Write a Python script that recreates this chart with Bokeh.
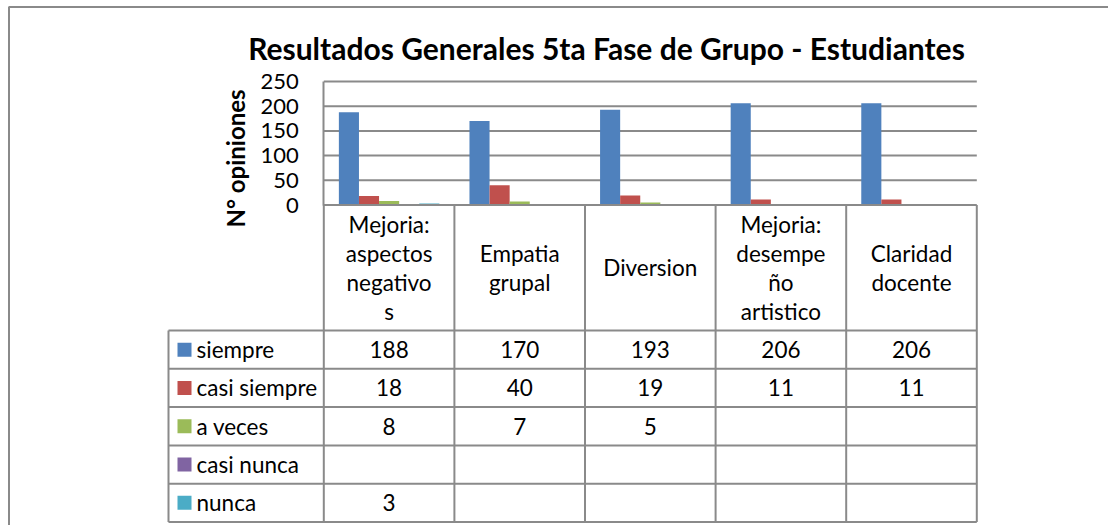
import math
from bokeh.plotting import figure
from bokeh.models import Range1d, LinearAxis, FixedTicker
from bokeh.core.properties import value
from bokeh.embed import file_html
from bokeh.resources import INLINE

# ---------------- data ----------------
title_text = "Resultados Generales 5ta Fase de Grupo - Estudiantes"
y_label = "N° opiniones"
categories = ["Mejoria:\naspectos\nnegativo\ns", "Empatia\ngrupal", "Diversion",
              "Mejoria:\ndesempe\nño\nartistico", "Claridad\ndocente"]
series_names = ["siempre", "casi siempre", "a veces", "casi nunca", "nunca"]
siempre = [188, 170, 193, 206, 206]
casi_siempre = [18, 40, 19, 11, 11]
a_veces = [8, 7, 5, None, None]
casi_nunca = [None, None, None, None, None]
nunca = [3, None, None, None, None]
y_ticks = [0, 50, 100, 150, 200, 250]
colors = ["#4F81BD", "#C0504D", "#9BBB59", "#8064A2", "#4BACC6"]

series_values = [siempre, casi_siempre, a_veces, casi_nunca, nunca]

# ---------------- layout (pixels) ----------------
W, H = 1108, 525
PLOT_LEFT = 323.3
CAT_PX = 130.6
Y0 = 204.5
PX_UNIT = (204.5 - 81.0) / 250.0
FONT = "Lato"
FS = "22.5px"
GRID = "#8a8a8a"


def px2x(px):
    return (px - PLOT_LEFT) / CAT_PX


def py2y(py):
    return (Y0 - py) / PX_UNIT


p = figure(width=W, height=H, output_backend="svg", toolbar_location=None,
           x_axis_type=None, y_axis_type=None,
           x_range=Range1d(px2x(0), px2x(W)),
           y_range=Range1d(py2y(H), py2y(0)),
           min_border=0, min_border_left=0, min_border_right=0,
           min_border_top=0, min_border_bottom=0)
p.outline_line_color = None
p.xgrid.visible = False
p.ygrid.visible = False
p.background_fill_color = "white"
p.border_fill_color = "white"

n_cat = len(categories)
n_ser = len(series_names)

# outer chart border (top and left visible in the crop)
p.segment(x0=[px2x(8), px2x(8.5)], y0=[py2y(6.5), py2y(6.5)],
          x1=[px2x(W), px2x(8.5)], y1=[py2y(6.5), py2y(H)],
          line_color=GRID, line_width=2)

# horizontal gridlines
gl = y_ticks[1:]
p.segment(x0=[0] * len(gl), x1=[n_cat] * len(gl), y0=gl, y1=gl,
          line_color=GRID, line_width=2)

# bars (gap width 150%)
gap = 1.5
bw = 1.0 / (n_ser + gap)
for j, (name, vals, c) in enumerate(zip(series_names, series_values, colors)):
    xs = [i + (gap / 2 + j + 0.5) * bw for i in range(n_cat)]
    tops = [float("nan") if v is None else v for v in vals]
    p.vbar(x=xs, top=tops, bottom=0, width=bw, fill_color=c, line_color=None)

# y axis
yaxis = LinearAxis(ticker=FixedTicker(ticks=y_ticks), bounds=(0, 250), fixed_location=0)
yaxis.axis_line_color = GRID
yaxis.axis_line_width = 2
yaxis.major_tick_line_color = None
yaxis.minor_tick_line_color = None
yaxis.major_tick_in = 0
yaxis.major_tick_out = 0
yaxis.major_label_standoff = 25
yaxis.major_label_text_font = FONT
yaxis.major_label_text_font_size = "22px"
yaxis.major_label_text_color = "black"
p.add_layout(yaxis, "left")

# ---------------- data table ----------------
row_edges = [330.0, 368.3, 406.6, 444.9, 483.2, 521.5]
header_bottom = row_edges[0]
legend_left = 168.0

hx0, hx1, hy = [0], [n_cat], [0]
for e in row_edges:
    hx0.append(px2x(legend_left)); hx1.append(n_cat); hy.append(py2y(e))
p.segment(x0=hx0, x1=hx1, y0=hy, y1=hy, line_color=GRID, line_width=2)

vx = [px2x(legend_left)]
vy0 = [py2y(row_edges[0])]
vy1 = [py2y(row_edges[-1])]
for i in range(n_cat + 1):
    vx.append(i); vy0.append(0); vy1.append(py2y(row_edges[-1]))
p.segment(x0=vx, x1=vx, y0=vy0, y1=vy1, line_color=GRID, line_width=2)

# header category labels
p.text(x=[i + 0.5 for i in range(n_cat)], y=[py2y((Y0 + header_bottom) / 2)] * n_cat,
       text=categories, text_font=value(FONT), text_font_size=value(FS),
       text_align="center", text_baseline="middle", text_line_height=1.07,
       text_color="black")

# rows: legend keys, series names, values
row_centers = [py2y((row_edges[k] + row_edges[k + 1]) / 2) for k in range(n_ser)]
p.scatter(x=[px2x(184)] * n_ser, y=row_centers, marker="square", size=14,
          fill_color=colors, line_color=None)
p.text(x=[px2x(196)] * n_ser, y=row_centers, text=series_names,
       text_font=value(FONT), text_font_size=value(FS),
       text_align="left", text_baseline="middle", text_color="black")

cx, cy, ct = [], [], []
for k, vals in enumerate(series_values):
    for i, v in enumerate(vals):
        cx.append(i + 0.5); cy.append(row_centers[k]); ct.append("" if v is None else str(v))
p.text(x=cx, y=cy, text=ct, text_font=value(FONT), text_font_size=value(FS),
       text_align="center", text_baseline="middle", text_color="black")

# title and y label
p.text(x=[px2x(606)], y=[py2y(47)], text=[title_text], text_font=value(FONT),
       text_font_size=value("30px"), text_font_style="bold",
       text_align="center", text_baseline="alphabetic", text_color="black")
p.text(x=[px2x(235)], y=[py2y(158)], text=[y_label], text_font=value(FONT),
       text_font_size=value("24px"), text_font_style="bold", angle=math.pi / 2,
       text_align="center", text_baseline="middle", text_color="black")

open("out.html", "w").write(file_html(p, INLINE))
